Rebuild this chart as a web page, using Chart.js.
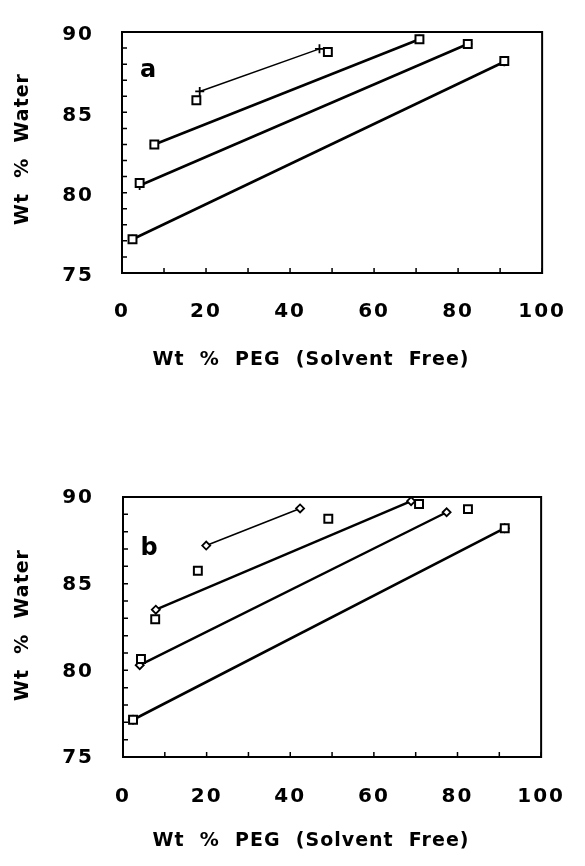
<!DOCTYPE html>
<html>
<head>
<meta charset="utf-8">
<script src="https://cdn.jsdelivr.net/npm/chart.js@4.4.1/dist/chart.umd.min.js"></script>
<style>
  html, body { margin: 0; padding: 0; background: #fff; }
  canvas { display: block; }
</style>
</head>
<body>
<canvas id="chart-a" width="585" height="433"></canvas>
<canvas id="chart-b" width="585" height="433"></canvas>
<script>
// Tick labels
const xTickLabels = [0, 20, 40, 60, 80, 100];
const yTickLabels = [75, 80, 85, 90];

// Panel a: measured points (open squares)
const aSquareX = [2.5, 4.2, 7.7, 17.7, 49.0, 70.8, 82.3, 91.0];
const aSquareY = [77.1, 80.6, 83.0, 85.75, 88.75, 89.55, 89.25, 88.2];
// Panel a: tie lines (plus markers)
const aLine1X = [2.5, 91.0],  aLine1Y = [77.1, 88.15];
const aLine2X = [4.2, 82.3],  aLine2Y = [80.45, 89.25];
const aLine3X = [7.7, 70.8],  aLine3Y = [83.0, 89.55];
const aLine4X = [18.5, 47.0], aLine4Y = [86.3, 88.95];

// Panel b: measured points (open squares)
const bSquareX = [2.4, 4.3, 7.7, 17.9, 49.1, 70.8, 82.5, 91.3];
const bSquareY = [77.15, 80.65, 82.95, 85.75, 88.75, 89.6, 89.3, 88.2];
// Panel b: tie lines (diamond markers)
const bLine1X = [2.4, 91.3],  bLine1Y = [77.15, 88.2];
const bLine2X = [4.0, 77.4],  bLine2Y = [80.3, 89.12];
const bLine3X = [7.85, 68.9], bLine3Y = [83.5, 89.76];
const bLine4X = [19.9, 42.35], bLine4Y = [87.2, 89.34];

const pts = (xs, ys) => xs.map((x, i) => ({ x: x, y: ys[i] }));

Chart.defaults.font.family = "'DejaVu Sans', sans-serif";
Chart.defaults.font.weight = "bold";
Chart.defaults.font.size = 20;
Chart.defaults.color = "#000";

// frame, inward ticks, axis titles and panel letter
const framePlugin = {
  id: "frame",
  beforeLayout(chart) { chart.ctx.letterSpacing = "2px"; },
  beforeDraw(chart) { chart.ctx.letterSpacing = "2px"; },
  afterDraw(chart, args, o) {
    const ctx = chart.ctx;
    const a = chart.chartArea;
    const sx = chart.scales.x, sy = chart.scales.y;
    ctx.save();
    ctx.strokeStyle = "#000";
    ctx.lineWidth = 1.5;
    ctx.beginPath();
    sx.ticks.forEach(t => {
      const px = sx.getPixelForValue(t.value);
      ctx.moveTo(px, a.bottom);
      ctx.lineTo(px, a.bottom - 5);
    });
    sy.ticks.forEach(t => {
      const py = sy.getPixelForValue(t.value);
      ctx.moveTo(a.left, py);
      ctx.lineTo(a.left + 5, py);
    });
    ctx.stroke();
    ctx.lineWidth = 2;
    ctx.strokeRect(a.left, a.top, a.right - a.left, a.bottom - a.top);

    ctx.fillStyle = "#000";
    ctx.textAlign = "center";
    ctx.textBaseline = "middle";
    ctx.letterSpacing = "1px";
    ctx.font = "bold 19px 'DejaVu Sans'";
    ctx.fillText(o.xTitle, o.xTitleX, o.xTitleY);
    ctx.save();
    ctx.translate(o.yTitleX, o.yTitleY);
    ctx.rotate(-Math.PI / 2);
    ctx.fillText(o.yTitle, 0, 0);
    ctx.restore();
    ctx.letterSpacing = "0px";
    ctx.font = "bold 24px 'DejaVu Sans'";
    ctx.fillText(o.letter, o.letterX, o.letterY);
    ctx.restore();
  }
};

function lineSet(xs, ys, style, radius, width) {
  return {
    data: pts(xs, ys),
    showLine: true,
    borderColor: "#000",
    borderWidth: width,
    pointStyle: style,
    pointRadius: radius,
    pointBorderWidth: 1.8,
    pointBackgroundColor: "#fff",
    pointBorderColor: "#000"
  };
}

function squareSet(xs, ys) {
  return {
    data: pts(xs, ys),
    showLine: false,
    pointStyle: "rect",
    pointRadius: 5.6,
    pointBorderWidth: 2,
    pointBackgroundColor: "#fff",
    pointBorderColor: "#000"
  };
}

function makeChart(id, datasets, p) {
  return new Chart(document.getElementById(id), {
    type: "scatter",
    data: { datasets: datasets },
    options: {
      responsive: false,
      animation: false,
      layout: {
        autoPadding: false,
        padding: { left: 0, right: 585 - p.right, top: p.top, bottom: 0 }
      },
      plugins: {
        legend: { display: false },
        tooltip: { enabled: false },
        frame: p.text
      },
      scales: {
        x: {
          min: 0, max: 100,
          afterFit: s => { s.height = 433 - p.bottom; },
          border: { display: false },
          grid: { display: false },
          ticks: {
            stepSize: 10, autoSkip: false, maxRotation: 0, padding: p.xPad,
            callback: v => xTickLabels.includes(v) ? v : ""
          }
        },
        y: {
          min: 75, max: 90,
          afterFit: s => { s.width = p.left; },
          border: { display: false },
          grid: { display: false },
          ticks: {
            stepSize: 1, autoSkip: false, padding: p.yPad, labelOffset: p.yShift,
            callback: v => yTickLabels.includes(v) ? v : ""
          }
        }
      }
    },
    plugins: [framePlugin]
  });
}

makeChart("chart-a", [
  squareSet(aSquareX, aSquareY),
  lineSet(aLine4X, aLine4Y, "cross", 4.5, 1.5),
  lineSet(aLine3X, aLine3Y, "cross", 4.5, 2.6),
  lineSet(aLine2X, aLine2Y, "cross", 4.5, 2.6),
  lineSet(aLine1X, aLine1Y, "cross", 4.5, 2.6)
], {
  left: 122, right: 553, top: 16, bottom: 273, xPad: 19, yPad: 20, yShift: 3,
  text: {
    xTitle: "Wt  %  PEG  (Solvent  Free)", xTitleX: 311, xTitleY: 360,
    yTitle: "Wt  %  Water", yTitleX: 23, yTitleY: 149,
    letter: "a", letterX: 148, letterY: 71
  }
});

makeChart("chart-b", [
  squareSet(bSquareX, bSquareY),
  lineSet(bLine4X, bLine4Y, "rectRot", 4, 1.5),
  lineSet(bLine3X, bLine3Y, "rectRot", 4, 2.4),
  lineSet(bLine2X, bLine2Y, "rectRot", 4, 2.4),
  lineSet(bLine1X, bLine1Y, "rectRot", 4, 2.6)
], {
  left: 123, right: 556, top: 64, bottom: 324, xPad: 20, yPad: 21, yShift: 1,
  text: {
    xTitle: "Wt  %  PEG  (Solvent  Free)", xTitleX: 311, xTitleY: 408,
    yTitle: "Wt  %  Water", yTitleX: 23, yTitleY: 192,
    letter: "b", letterX: 149, letterY: 116
  }
});
</script>
</body>
</html>
